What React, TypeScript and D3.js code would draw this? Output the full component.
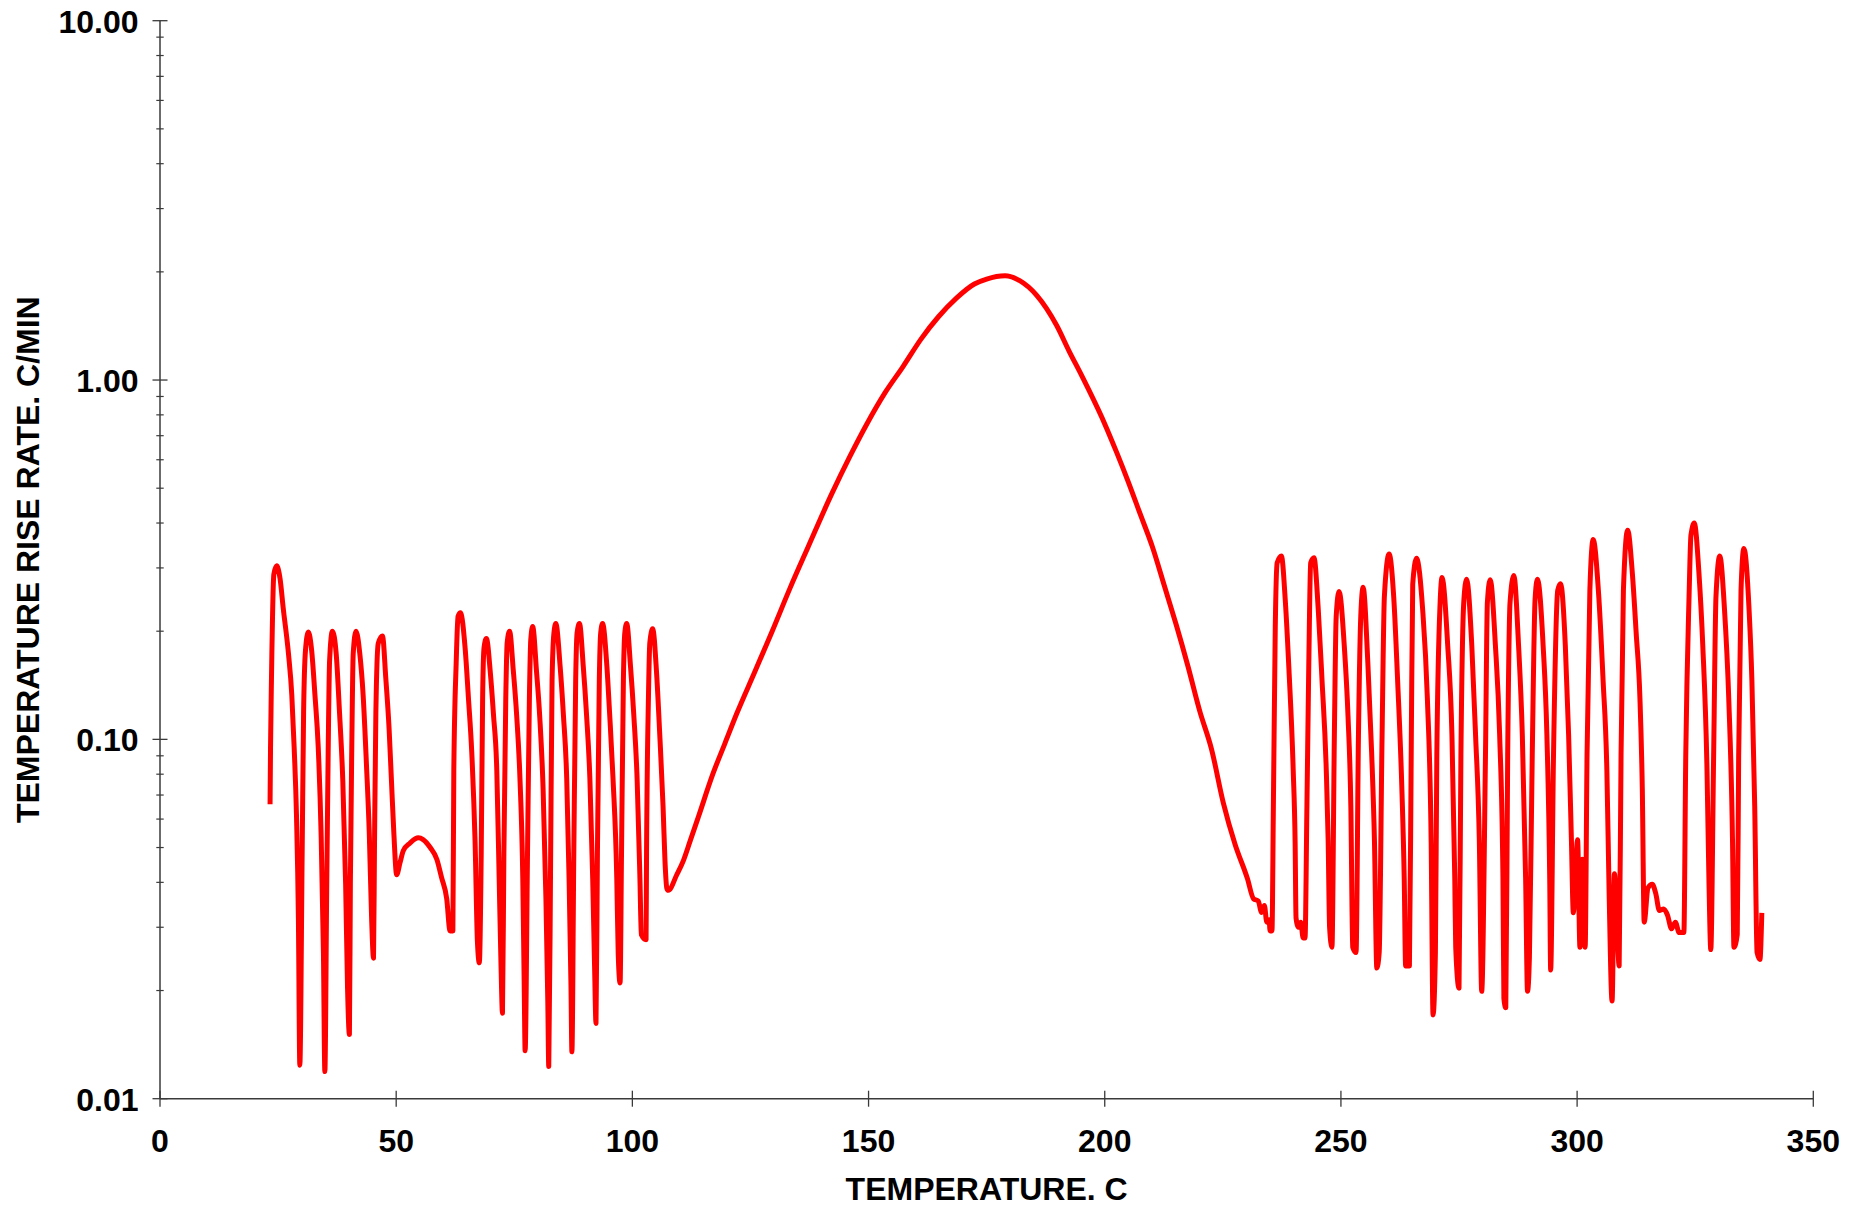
import React from 'react';
import * as d3 from 'd3';

// Temperature (C), rise rate (C/min)
const lowOscillations: [number, number][] = [
  [23.3, 0.066], [23.4, 0.095], [23.6, 0.148], [24.1, 0.288], [24.7, 0.304], [25.4, 0.281], [26.1, 0.231], [27.2, 0.173], [27.9, 0.133], [28.4, 0.095], [28.9, 0.061], [29.3, 0.0317], [29.6, 0.0124],
  [30.1, 0.049], [30.4, 0.119], [30.8, 0.177], [31.4, 0.199], [32.1, 0.177], [32.8, 0.133], [33.5, 0.095], [34.1, 0.055], [34.6, 0.0254], [34.9, 0.0119],
  [35.3, 0.0395], [35.6, 0.0914], [35.9, 0.165], [36.5, 0.2], [37.3, 0.173], [38.0, 0.119], [38.7, 0.0766], [39.3, 0.0395], [39.7, 0.0204], [40.1, 0.0151],
  [40.3, 0.0395], [40.6, 0.095], [40.9, 0.173], [41.5, 0.2], [42.3, 0.173], [43.0, 0.133], [43.7, 0.0855], [44.3, 0.055], [44.8, 0.0317], [45.2, 0.0246],
  [45.4, 0.049], [45.7, 0.119], [46.2, 0.185], [47.1, 0.194], [47.8, 0.148], [48.5, 0.107], [49.0, 0.0766], [49.5, 0.055], [50.1, 0.042],
  [50.8, 0.0453], [51.5, 0.049], [52.9, 0.0514], [54.7, 0.0532], [55.7, 0.0526], [57.2, 0.05], [58.6, 0.0464], [59.6, 0.0413], [60.7, 0.036], [61.4, 0.0293], [62.0, 0.0293],
  [62.2, 0.082], [62.7, 0.163], [63.1, 0.22], [63.6, 0.225], [64.6, 0.179], [65.3, 0.13], [66.0, 0.092], [66.7, 0.052], [67.2, 0.0273], [67.6, 0.0239],
  [68.0, 0.048], [68.3, 0.13], [68.6, 0.18], [69.1, 0.191], [69.9, 0.155], [70.6, 0.117], [71.3, 0.082], [71.8, 0.041], [72.2, 0.0233], [72.5, 0.0173],
  [72.8, 0.048], [73.2, 0.13], [73.5, 0.186], [74.0, 0.2], [74.8, 0.155], [75.5, 0.117], [76.2, 0.078], [76.8, 0.041], [77.1, 0.0208], [77.3, 0.0136],
  [77.8, 0.048], [78.2, 0.13], [78.5, 0.19], [78.9, 0.206], [79.7, 0.155], [80.4, 0.115], [81.1, 0.073], [81.7, 0.036], [82.1, 0.0185], [82.3, 0.0123],
  [82.7, 0.048], [83.0, 0.146], [83.4, 0.198], [83.8, 0.21], [84.7, 0.16], [85.4, 0.117], [86.1, 0.078], [86.6, 0.041], [87.0, 0.0208], [87.2, 0.0135],
  [87.6, 0.048], [88.0, 0.146], [88.3, 0.198], [88.8, 0.21], [89.6, 0.16], [90.3, 0.117], [91.0, 0.078], [91.6, 0.041], [92.0, 0.0233], [92.3, 0.0162],
  [92.6, 0.048], [93.0, 0.146], [93.3, 0.198], [93.7, 0.21], [94.6, 0.16], [95.2, 0.117], [95.9, 0.078], [96.7, 0.041], [97.0, 0.0254], [97.4, 0.021],
  [97.7, 0.048], [98.1, 0.146], [98.4, 0.198], [98.8, 0.21], [99.6, 0.16], [100.3, 0.117], [101.0, 0.078], [101.6, 0.041], [101.9, 0.0286], [102.9, 0.0277],
  [103.0, 0.048], [103.4, 0.13], [103.7, 0.186], [104.3, 0.203], [105.1, 0.155], [105.8, 0.103], [106.5, 0.065], [106.9, 0.046], [107.3, 0.0385], [107.6, 0.038],
];

const exothermPeak: [number, number][] = [
  [109.4, 0.042], [110.8, 0.046], [112.2, 0.052], [114.0, 0.061], [117.1, 0.0805], [119.6, 0.0975], [122.1, 0.118],
  [125.9, 0.154], [129.6, 0.2], [133.4, 0.264], [137.2, 0.343], [142.2, 0.482], [146.0, 0.611], [149.7, 0.757],
  [153.5, 0.922], [157.3, 1.09], [161.1, 1.3], [164.8, 1.5], [168.6, 1.69], [172.4, 1.85], [175.0, 1.91], [178.9, 1.95],
  [182.0, 1.89], [185.6, 1.72], [189.8, 1.42], [192.5, 1.2], [195.1, 1.03], [200.0, 0.755], [202.5, 0.63], [205.0, 0.52],
  [207.5, 0.424], [210.1, 0.343], [212.6, 0.268], [215.1, 0.209], [217.6, 0.16], [220.1, 0.12], [222.6, 0.094],
  [225.1, 0.0666], [227.6, 0.051],
];

const highOscillations: [number, number][] = [
  [230.2, 0.041], [231.5, 0.036], [232.5, 0.0355], [233.2, 0.033], [233.8, 0.0345], [234.3, 0.031], [234.8, 0.0315], [235.0, 0.0293], [235.4, 0.0293],
  [235.7, 0.065], [236.1, 0.205], [236.5, 0.31], [237.4, 0.324], [238.2, 0.246], [239.0, 0.156], [239.9, 0.082], [240.3, 0.052], [240.5, 0.0318], [241.0, 0.030], [241.5, 0.031], [242.0, 0.028], [242.4, 0.028],
  [242.8, 0.065], [243.2, 0.163], [243.6, 0.31], [244.3, 0.32], [245.2, 0.23], [246.0, 0.146], [246.9, 0.082], [247.3, 0.052], [247.6, 0.030], [248.1, 0.0264],
  [248.6, 0.1], [249.0, 0.22], [249.6, 0.258], [250.7, 0.183], [251.5, 0.116], [252.1, 0.065], [252.5, 0.0264], [253.2, 0.0255],
  [253.7, 0.1], [254.2, 0.22], [254.7, 0.265], [255.7, 0.163], [256.5, 0.092], [257.1, 0.052], [257.6, 0.0231], [258.1, 0.0255],
  [258.7, 0.1], [259.2, 0.25], [260.2, 0.328], [261.2, 0.246], [262.0, 0.146], [262.9, 0.073], [263.4, 0.041], [263.7, 0.0234], [264.5, 0.0234],
  [264.9, 0.1], [265.2, 0.27], [266.0, 0.319], [267.3, 0.23], [268.3, 0.13], [269.1, 0.052], [269.5, 0.0171], [270.0, 0.0255],
  [270.3, 0.09], [271.0, 0.24], [271.4, 0.282], [272.6, 0.183], [273.5, 0.103], [274.1, 0.041], [274.3, 0.0264], [275.0, 0.0203],
  [275.4, 0.09], [276.0, 0.24], [276.6, 0.279], [277.7, 0.183], [278.5, 0.103], [279.3, 0.052], [279.8, 0.0199],
  [280.6, 0.09], [281.0, 0.24], [281.6, 0.278], [282.7, 0.183], [283.6, 0.103], [284.3, 0.041], [284.5, 0.019], [284.9, 0.0179],
  [285.3, 0.09], [285.8, 0.24], [286.6, 0.286], [287.6, 0.183], [288.4, 0.103], [289.1, 0.041], [289.5, 0.0199], [289.9, 0.0247],
  [290.5, 0.09], [291.1, 0.245], [291.6, 0.279], [292.8, 0.183], [293.6, 0.103], [294.2, 0.041], [294.4, 0.0228],
  [295.0, 0.09], [295.9, 0.26], [296.5, 0.271], [297.5, 0.183], [298.2, 0.103], [298.8, 0.052], [299.2, 0.0329], [300.1, 0.0526], [300.6, 0.0264], [301.1, 0.0464], [301.7, 0.0264],
  [302.1, 0.09], [302.7, 0.26], [303.4, 0.36], [304.5, 0.26], [305.5, 0.146], [306.3, 0.082], [306.8, 0.036], [307.4, 0.0187], [307.9, 0.0423], [308.3, 0.035], [308.9, 0.0234],
  [309.3, 0.09], [309.8, 0.26], [310.7, 0.382], [311.7, 0.289], [312.5, 0.198], [313.3, 0.13], [313.8, 0.073], [314.2, 0.031],
  [315.0, 0.0386], [315.9, 0.0395], [316.7, 0.037], [317.4, 0.0334], [318.3, 0.0337], [319.1, 0.0325], [320.0, 0.0297], [320.8, 0.031], [321.6, 0.029], [322.6, 0.029],
  [323.0, 0.09], [323.7, 0.25], [324.1, 0.37], [324.8, 0.40], [325.8, 0.289], [326.6, 0.183], [327.5, 0.082], [327.9, 0.041], [328.3, 0.026],
  [328.9, 0.09], [329.4, 0.25], [330.2, 0.324], [331.2, 0.23], [332.1, 0.13], [332.9, 0.052], [333.2, 0.0264], [333.9, 0.0286],
  [334.2, 0.09], [334.7, 0.26], [335.3, 0.34], [336.4, 0.23], [337.0, 0.146], [337.6, 0.065], [338.1, 0.0255], [338.7, 0.0244], [339.1, 0.0329],
];

const xTicks = [0, 50, 100, 150, 200, 250, 300, 350];
const yMajorTicks = [0.01, 0.1, 1, 10];
const yTickLabels = ['0.01', '0.10', '1.00', '10.00'];
const yMinorMultipliers = [2, 3, 4, 5, 6, 7, 8, 9];

const xTitle = 'TEMPERATURE. C';
const yTitle = 'TEMPERATURE RISE RATE. C/MIN';

const FONT = '"Liberation Sans", Arial, Helvetica, sans-serif';

export default function App() {
  const W = 1864;
  const H = 1208;
  const x = d3.scaleLinear().domain([0, 350]).range([160, 1813.3]);
  const y = d3.scaleLog().domain([0.01, 10]).range([1098.7, 20.7]);
  const data = [...lowOscillations, ...exothermPeak, ...highOscillations];
  const line = d3
    .line<[number, number]>()
    .x((d) => x(d[0]))
    .y((d) => y(d[1]))
    .curve(d3.curveMonotoneX);

  const minor: number[] = [];
  yMajorTicks.slice(0, 3).forEach((k) => yMinorMultipliers.forEach((m) => minor.push(k * m)));

  const axisColor = '#3a3a3a';
  const x0 = x(0);
  const yBottom = y(0.01);

  return (
    <svg width={W} height={H} style={{ position: 'absolute', left: 0, top: 0, display: 'block', background: '#fff' }}>
      <rect x={0} y={0} width={W} height={H} fill="#fff" />
      {/* y axis */}
      <line x1={x0} x2={x0} y1={y(10)} y2={yBottom} stroke={axisColor} strokeWidth={1.5} />
      {minor.map((v, i) => (
        <line key={'mn' + i} x1={x0 - 3.7} x2={x0 + 3.7} y1={y(v)} y2={y(v)} stroke={axisColor} strokeWidth={1.2} />
      ))}
      {yMajorTicks.map((v, i) => (
        <g key={'yt' + i}>
          <line x1={x0 - 7.5} x2={x0 + 7.5} y1={y(v)} y2={y(v)} stroke={axisColor} strokeWidth={1.3} />
          <text x={138.5} y={y(v) + 12} textAnchor="end" fontFamily={FONT} fontWeight="bold" fontSize={32} fill="#000">
            {yTickLabels[i]}
          </text>
        </g>
      ))}
      {/* x axis */}
      <line x1={x0} x2={x(350)} y1={yBottom} y2={yBottom} stroke={axisColor} strokeWidth={1.5} />
      {xTicks.map((t, i) => (
        <g key={'xt' + i}>
          <line x1={x(t)} x2={x(t)} y1={yBottom - 8} y2={yBottom + 8} stroke={axisColor} strokeWidth={1.3} />
          <text x={x(t)} y={1151.5} textAnchor="middle" fontFamily={FONT} fontWeight="bold" fontSize={32} fill="#000">
            {t}
          </text>
        </g>
      ))}
      <text x={(x(0) + x(350)) / 2} y={1200} textAnchor="middle" fontFamily={FONT} fontWeight="bold" fontSize={32} fill="#000">
        {xTitle}
      </text>
      <text
        transform={`translate(39, ${(y(10) + yBottom) / 2}) rotate(-90)`}
        textAnchor="middle"
        fontFamily={FONT}
        fontWeight="bold"
        fontSize={32}
        fill="#000"
      >
        {yTitle}
      </text>
      <path d={line(data) || ''} fill="none" stroke="#ff0000" strokeWidth={5} strokeLinejoin="round" strokeLinecap="butt" />
    </svg>
  );
}
